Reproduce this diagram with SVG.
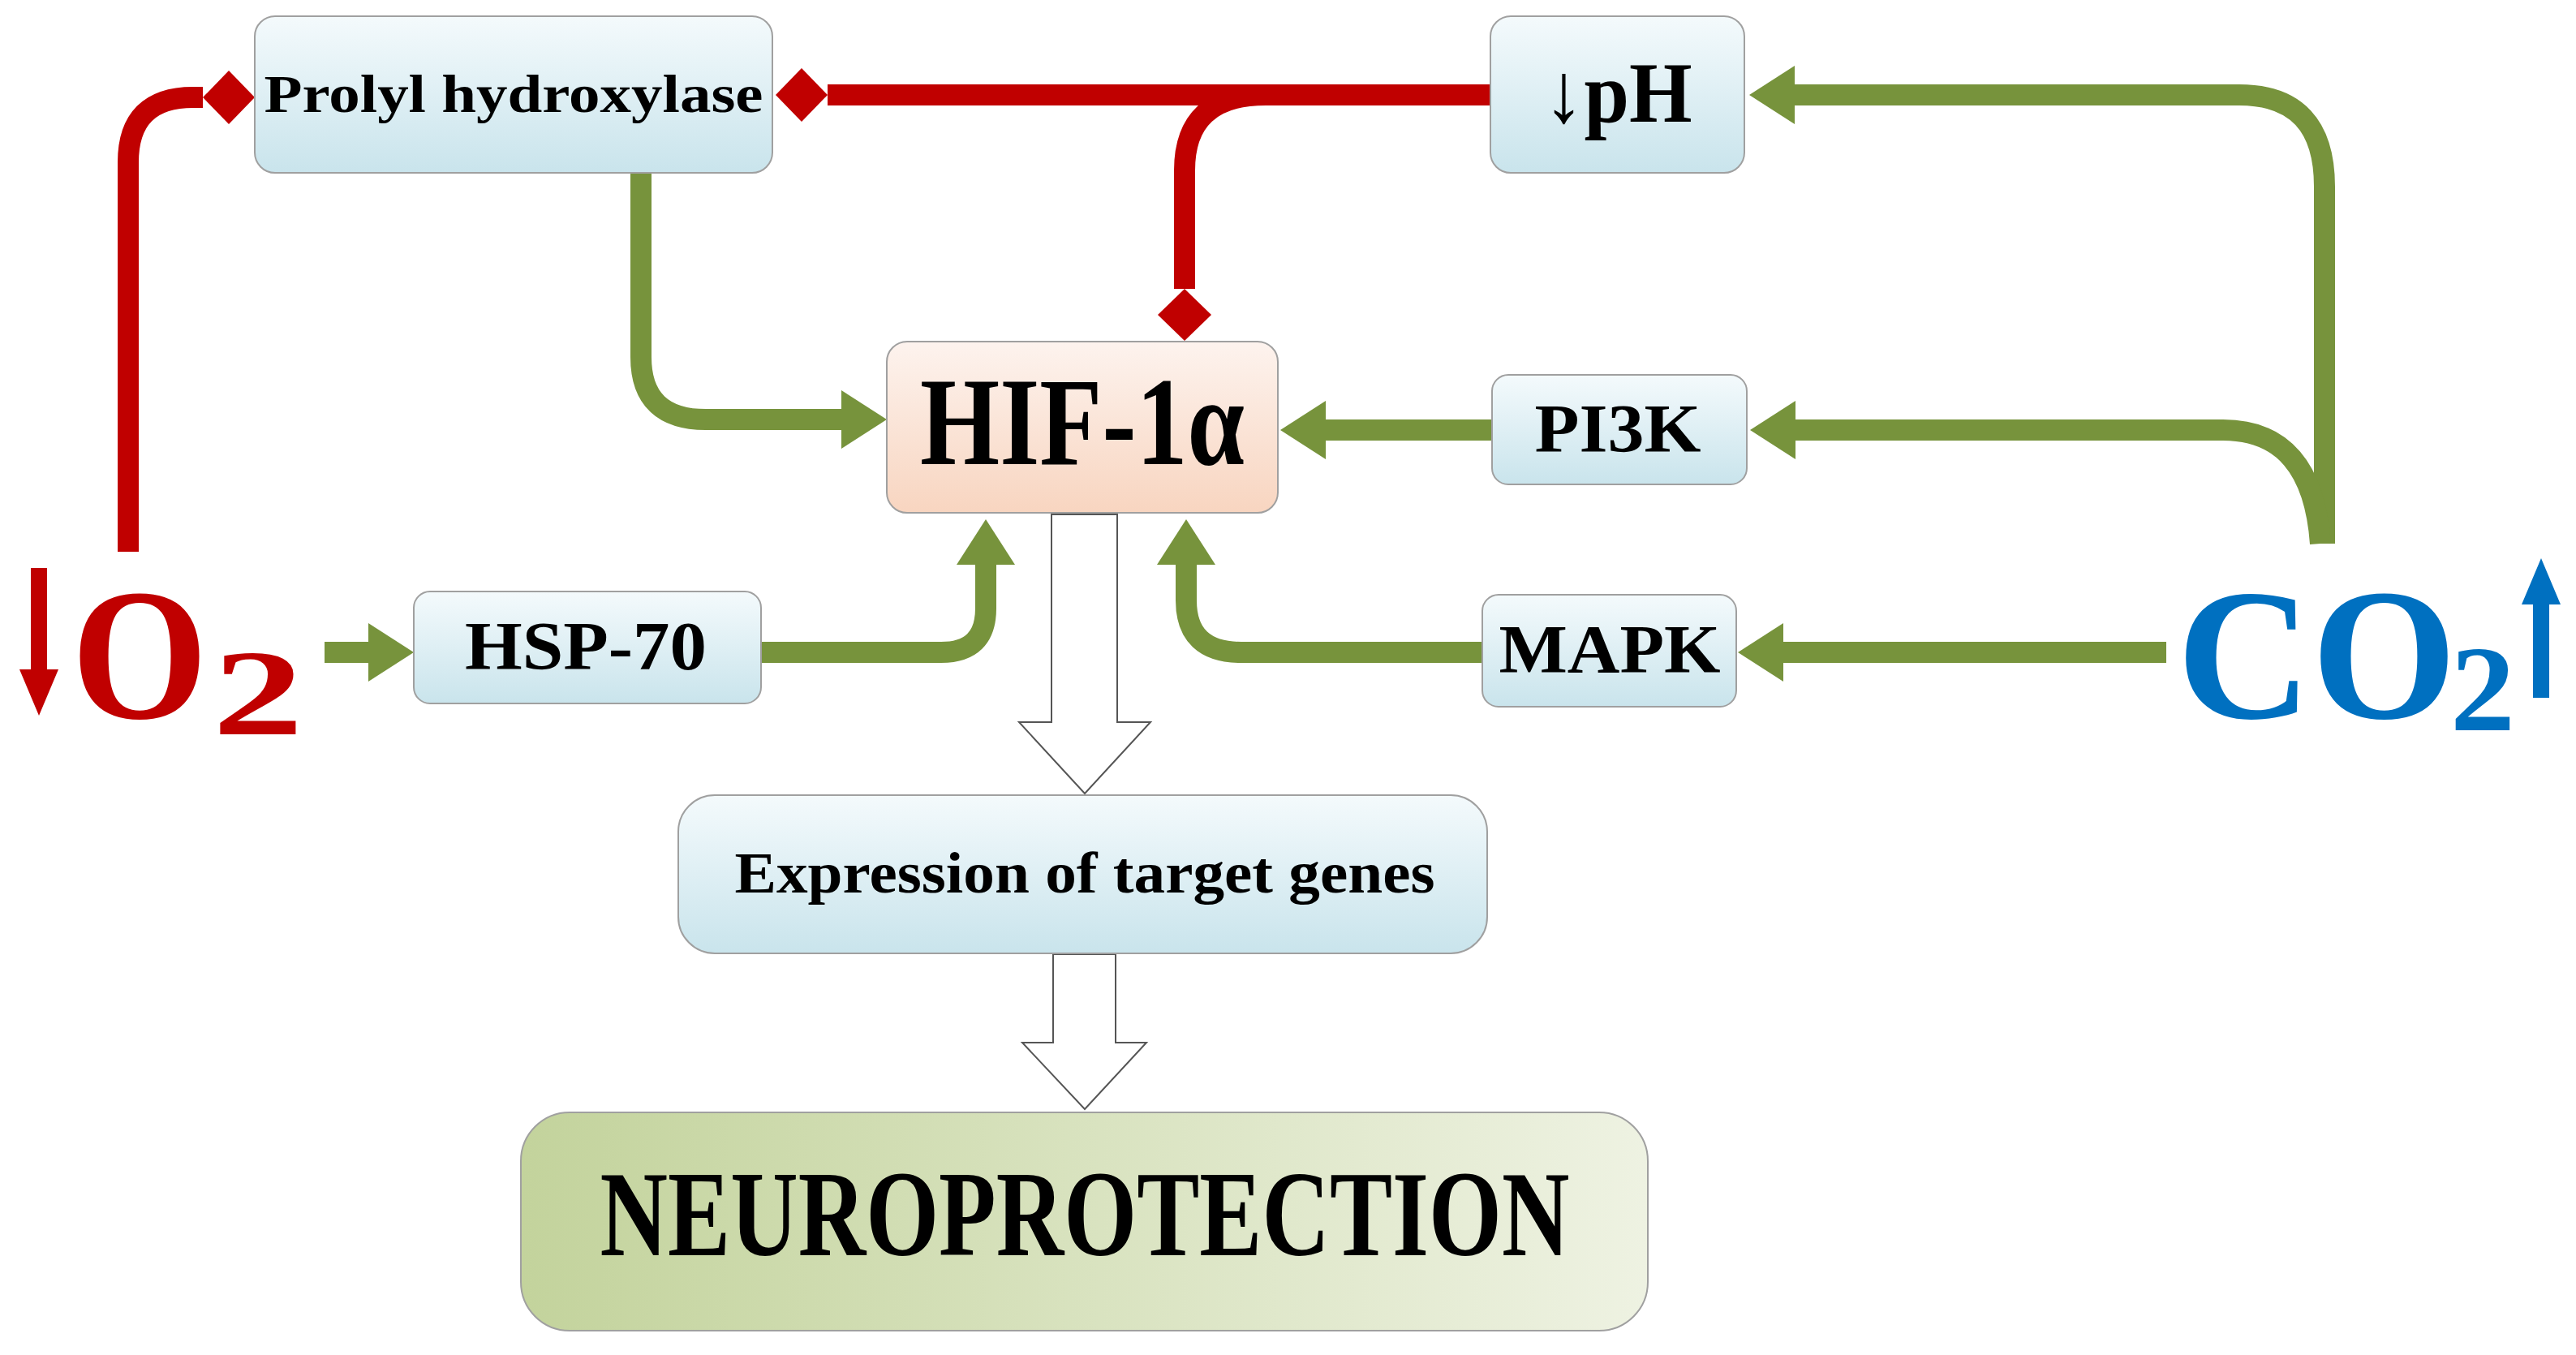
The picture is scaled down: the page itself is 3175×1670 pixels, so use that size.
<svg xmlns="http://www.w3.org/2000/svg" width="3175" height="1670" viewBox="0 0 3175 1670">
<style>
.box{stroke:#a0a0a0;stroke-width:2}
.t{font-family:"Liberation Serif",serif;font-weight:bold;fill:#000;text-anchor:middle}
.g{fill:none;stroke:#77933c;stroke-width:26}
.r{fill:none;stroke:#c00000;stroke-width:26}
.hollow{fill:#fff;stroke:#555;stroke-width:2}
.big{font-family:"Liberation Serif",serif;font-weight:bold}
</style>
<defs>
<linearGradient id="blue" x1="0" y1="0" x2="0" y2="1"><stop offset="0" stop-color="#f4fafc"/><stop offset="1" stop-color="#c9e4ec"/></linearGradient>
<linearGradient id="peach" x1="0" y1="0" x2="0" y2="1"><stop offset="0" stop-color="#fdf3ee"/><stop offset="1" stop-color="#f8d5c0"/></linearGradient>
<linearGradient id="olive" x1="0" y1="0" x2="1" y2="0"><stop offset="0" stop-color="#c3d39c"/><stop offset="1" stop-color="#eef2e2"/></linearGradient>
<marker id="ga" markerUnits="userSpaceOnUse" markerWidth="60" markerHeight="72" refX="0" refY="36" orient="auto"><path d="M0,0 L56,36 L0,72 z" fill="#77933c"/></marker>
<marker id="rd" markerUnits="userSpaceOnUse" markerWidth="70" markerHeight="66" refX="0" refY="33" orient="auto"><path d="M0,33 L32,0 L64,33 L32,66 z" fill="#c00000"/></marker>
</defs>
<g id="connectors">
<path class="r" d="M158,680 V200 Q158,120 238,120 H250" marker-end="url(#rd)"/>
<path class="r" d="M1837,117 H1020" marker-end="url(#rd)"/>
<path class="r" d="M1560,117 Q1460,117 1460,210 V356" marker-end="url(#rd)"/>
<path class="g" d="M790,213 V440 Q790,517 870,517 H1037" marker-end="url(#ga)"/>
<path class="g" d="M938,804 H1160 Q1215,804 1215,750 V696" marker-end="url(#ga)"/>
<path class="g" d="M400,804 H454" marker-end="url(#ga)"/>
<path class="g" d="M1827,804 H1530 Q1462,804 1462,740 V696" marker-end="url(#ga)"/>
<path class="g" d="M1839,530 H1634" marker-end="url(#ga)"/>
<path class="g" d="M2865,670 V230 Q2865,117 2760,117 H2212" marker-end="url(#ga)"/>
<path class="g" d="M2860,670 Q2850,530 2740,530 H2213" marker-end="url(#ga)"/>
<path class="g" d="M2670,804 H2198" marker-end="url(#ga)"/>
<polygon class="hollow" points="1296,634 1377,634 1377,890 1418,890 1337,978 1256,890 1296,890"/>
<polygon class="hollow" points="1298,1176 1375,1176 1375,1285 1413,1285 1337,1367 1260,1285 1298,1285"/>
</g>
<g id="prolyl"><rect class="box" x="314" y="20" width="638" height="193" rx="25" fill="url(#blue)"/><text class="t" x="633" y="138" font-size="66" textLength="615" lengthAdjust="spacingAndGlyphs">Prolyl hydroxylase</text></g>
<g id="ph"><rect class="box" x="1837" y="20" width="313" height="193" rx="25" fill="url(#blue)"/><text class="t" x="1994" y="150" font-size="105" textLength="183" lengthAdjust="spacingAndGlyphs">↓pH</text></g>
<g id="hif"><rect class="box" x="1093" y="421" width="482" height="211" rx="25" fill="url(#peach)"/><text class="t" x="1334" y="572" font-size="155" textLength="400" lengthAdjust="spacingAndGlyphs">HIF-1α</text></g>
<g id="pi3k"><rect class="box" x="1839" y="462" width="314" height="135" rx="20" fill="url(#blue)"/><text class="t" x="1994" y="557" font-size="85" textLength="205" lengthAdjust="spacingAndGlyphs">PI3K</text></g>
<g id="hsp70"><rect class="box" x="510" y="729" width="428" height="138" rx="20" fill="url(#blue)"/><text class="t" x="722" y="825" font-size="85" textLength="298" lengthAdjust="spacingAndGlyphs">HSP-70</text></g>
<g id="mapk"><rect class="box" x="1827" y="733" width="313" height="138" rx="20" fill="url(#blue)"/><text class="t" x="1984" y="829" font-size="85" textLength="273" lengthAdjust="spacingAndGlyphs">MAPK</text></g>
<g id="expression"><rect class="box" x="836" y="980" width="997" height="195" rx="45" fill="url(#blue)"/><text class="t" x="1337" y="1100" font-size="72" textLength="863" lengthAdjust="spacingAndGlyphs">Expression of target genes</text></g>
<g id="neuro"><rect class="box" x="642" y="1371" width="1389" height="269" rx="60" fill="url(#olive)"/><text class="t" x="1337" y="1547" font-size="150" textLength="1195" lengthAdjust="spacingAndGlyphs">NEUROPROTECTION</text></g>
<g id="o2"><polygon fill="#c00000" points="38,700 58,700 58,825 72,825 48,882 24,825 38,825"/><text class="big" fill="#c00000" font-size="230" x="88" y="885" textLength="168" lengthAdjust="spacingAndGlyphs">O</text><text class="big" fill="#c00000" font-size="150" x="262" y="905" textLength="112" lengthAdjust="spacingAndGlyphs">2</text></g>
<g id="co2"><text class="big" fill="#0070c0" font-size="230" x="2683" y="885" textLength="345" lengthAdjust="spacingAndGlyphs">CO</text><text class="big" fill="#0070c0" font-size="150" x="3020" y="900" textLength="80" lengthAdjust="spacingAndGlyphs">2</text><polygon fill="#0070c0" points="3122,860 3142,860 3142,745 3156,745 3132,688 3108,745 3122,745"/></g>
</svg>
